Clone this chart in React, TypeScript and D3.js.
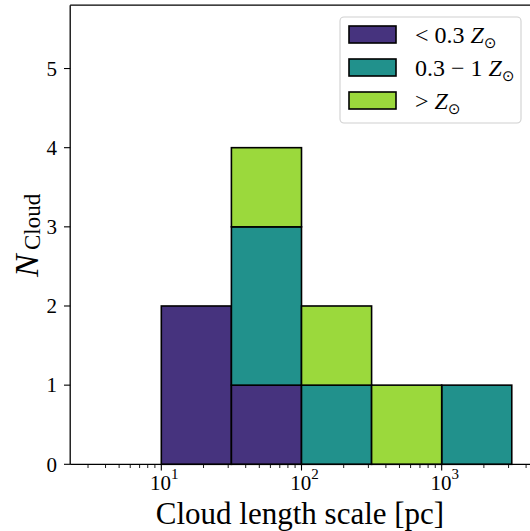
import React from "react";
import * as d3 from "d3";

const binEdgeExps = [0.5, 1, 1.5, 2, 2.5, 3, 3.5];
const seriesNames = ["low", "mid", "high"];
const lowZ = [0, 2, 1, 0, 0, 0];
const midZ = [0, 0, 2, 1, 0, 1];
const highZ = [0, 0, 1, 1, 1, 0];
const colors = ["#46337e", "#21918c", "#9bd93c"];
const yTicks = [0, 1, 2, 3, 4, 5];
const xMajorExps = [1, 2, 3];
const xDomainExps = [0.35, 3.65];
const yDomain = [0, 5.8];

const W = 530, H = 531;
const serif = "'Liberation Serif', 'Times New Roman', 'DejaVu Serif', serif";

export default function App() {
  const x = d3.scaleLog().domain(xDomainExps.map((e) => Math.pow(10, e))).range([70.2, 532.8]);
  const y = d3.scaleLinear().domain(yDomain).range([464.3, 5.2]);

  const rows = lowZ.map((_, i) => ({
    x0: Math.pow(10, binEdgeExps[i]),
    x1: Math.pow(10, binEdgeExps[i + 1]),
    low: lowZ[i],
    mid: midZ[i],
    high: highZ[i],
  }));
  const stacked = d3.stack<any>().keys(seriesNames)(rows);

  const [d0, d1] = x.domain();
  const minor: number[] = [];
  for (let dec = -1; dec <= 4; dec++) {
    for (let m = 2; m <= 9; m++) {
      const v = m * Math.pow(10, dec);
      if (v >= d0 && v <= d1) minor.push(v);
    }
  }

  const legendItems = [
    { color: colors[0], pre: "<", mid: " 0.3 " },
    { color: colors[1], pre: "", mid: "0.3 − 1 " },
    { color: colors[2], pre: ">", mid: " " },
  ];

  return (
    <svg width={W} height={H} style={{ position: "absolute", left: 0, top: 0, fontFamily: serif }}>
      <rect x={0} y={0} width={W} height={H} fill="white" />
      {/* bars */}
      {stacked.map((s, si) => (
        <g key={si}>
          {s.map((d: any, i: number) => (
            <rect
              key={i}
              x={x(d.data.x0)}
              y={y(d[1])}
              width={x(d.data.x1) - x(d.data.x0)}
              height={y(d[0]) - y(d[1])}
              fill={colors[si]}
              stroke="black"
              strokeWidth={1.6}
            />
          ))}
        </g>
      ))}
      {/* spines */}
      <g stroke="black" strokeWidth={1.3} fill="none">
        <line x1={70.2} x2={70.2} y1={5.2} y2={464.3} />
        <line x1={70.2} x2={540} y1={464.3} y2={464.3} />
        <line x1={70.2} x2={540} y1={5.2} y2={5.2} />
        <line x1={532.8} x2={532.8} y1={5.2} y2={464.3} />
      </g>
      {/* y ticks */}
      {yTicks.map((t) => (
        <g key={t}>
          <line x1={64} x2={70.2} y1={y(t)} y2={y(t)} stroke="black" strokeWidth={1.1} />
          <text x={57} y={y(t)} dy="0.35em" textAnchor="end" fontSize={21}>
            {t}
          </text>
        </g>
      ))}
      {/* x minor ticks */}
      {minor.map((v, i) => (
        <line key={i} x1={x(v)} x2={x(v)} y1={464.3} y2={468} stroke="black" strokeWidth={0.9} />
      ))}
      {/* x major ticks */}
      {xMajorExps.map((e) => {
        const px = x(Math.pow(10, e));
        return (
          <g key={e}>
            <line x1={px} x2={px} y1={464.3} y2={470.5} stroke="black" strokeWidth={1.1} />
            <text x={px + 3} y={490} textAnchor="middle" fontSize={21}>
              10
              <tspan dy={-11} fontSize={15}>
                {e}
              </tspan>
            </text>
          </g>
        );
      })}
      {/* x label */}
      <text x={300} y={524} textAnchor="middle" fontSize={31}>
        Cloud length scale [pc]
      </text>
      {/* y label */}
      <g transform="translate(38,277) rotate(-90)">
        <text x={0} y={0} fontSize={34} fontStyle="italic">
          N
        </text>
        <text x={27} y={2} fontSize={23}>
          Cloud
        </text>
      </g>
      {/* legend */}
      <rect x={340} y={17} width={181} height={106} rx={4} fill="white" fillOpacity={0.8} stroke="#d0d0d0" strokeWidth={1.1} />
      {legendItems.map((it, i) => {
        const ry = 26 + i * 33;
        return (
          <g key={i}>
            <rect x={349} y={ry} width={47} height={17} fill={it.color} stroke="black" strokeWidth={1.6} />
            <text x={415} y={ry + 17} fontSize={24}>
              {it.pre}
              {it.mid}
              <tspan fontStyle="italic">Z</tspan>
              <tspan dy={5} fontSize={15} fontFamily="'DejaVu Sans', sans-serif">⊙</tspan>
            </text>
          </g>
        );
      })}
    </svg>
  );
}
